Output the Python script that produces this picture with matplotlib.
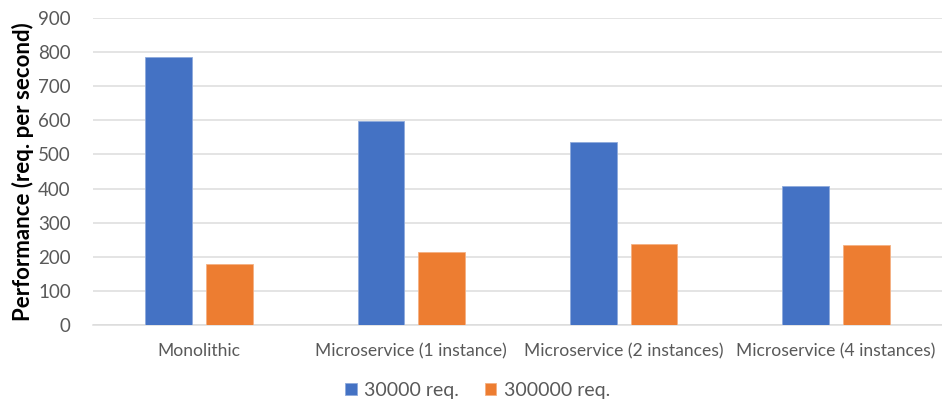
import matplotlib
matplotlib.use("Agg")
import numpy as np
import matplotlib.pyplot as plt

categories = ["Monolithic", "Microservice (1 instance)",
              "Microservice (2 instances)", "Microservice (4 instances)"]
series_names = ["30000 req.", "300000 req."]
req_30k = [787, 599, 536, 408]
req_300k = [178, 213, 237, 235]

BLUE = "#4472C4"
ORANGE = "#ED7D31"
GRID = "#DCDCDC"
TEXT = "#595959"

plt.rcParams['font.family'] = ['Lato', 'DejaVu Sans']

fig = plt.figure(figsize=(9.42, 4.09), dpi=100)
ax = fig.add_axes([0.0987, 0.2054, 0.9013, 0.7506])

x = np.arange(len(categories))
w = 0.22
off = 0.143
ax.bar(x - off, req_30k, w, color=BLUE, edgecolor="#8FAADC", linewidth=0.6,
       label=series_names[0], zorder=3)
ax.bar(x + off, req_300k, w, color=ORANGE, edgecolor="#F4B183", linewidth=0.6,
       label=series_names[1], zorder=3)

ax.set_xlim(-0.5, len(categories) - 0.5)
ax.set_ylim(0, 900)
ax.set_yticks(range(0, 901, 100))
ax.yaxis.grid(True, color=GRID, linewidth=1.1, zorder=0)
ax.set_axisbelow(True)
for s in ["top", "right", "left"]:
    ax.spines[s].set_visible(False)
ax.spines["bottom"].set_color(GRID)
ax.spines["bottom"].set_linewidth(1.1)
ax.tick_params(axis="both", length=0, colors=TEXT)
ax.tick_params(axis="y", labelsize=13.5, pad=16)
ax.tick_params(axis="x", labelsize=12.6, pad=13)
ax.set_xticks(x)
ax.set_xticklabels(categories)

ax.set_ylabel("Performance (req. per second)", fontsize=16,
              fontweight="bold", color="black", labelpad=3)

fig.legend(loc="center", bbox_to_anchor=(0.507, 0.046), ncol=2,
           frameon=False, fontsize=14, handlelength=0.6, handleheight=0.6,
           handletextpad=0.4, columnspacing=1.3, labelcolor=TEXT)

fig.savefig("out.png", dpi=100)
